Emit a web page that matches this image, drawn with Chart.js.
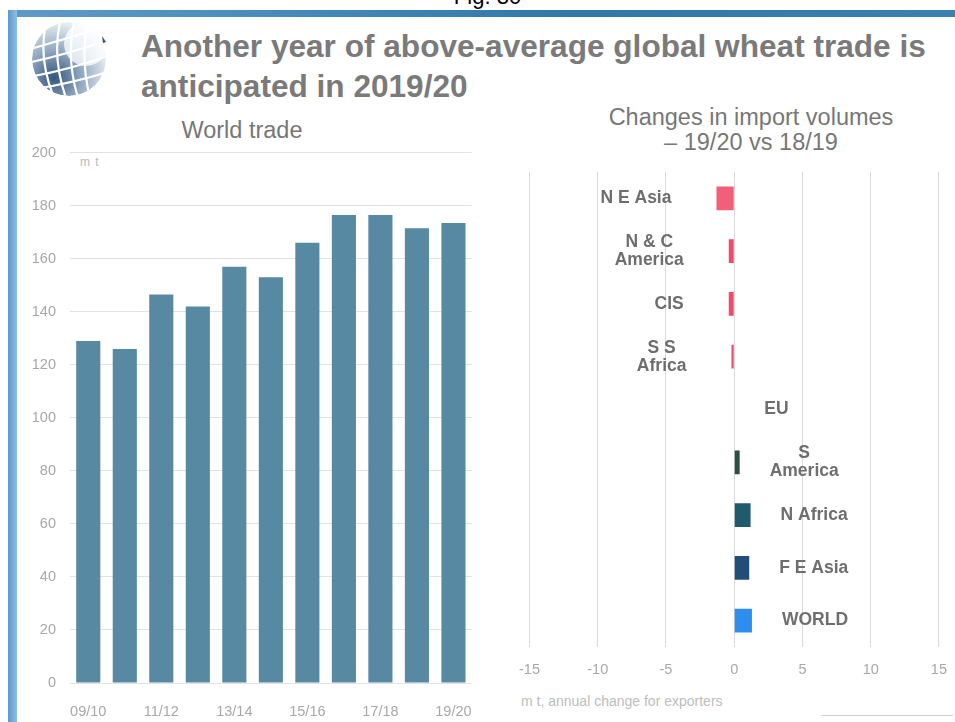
<!DOCTYPE html>
<html>
<head>
<meta charset="utf-8">
<script src="https://cdn.jsdelivr.net/npm/chart.js@4.4.0/dist/chart.umd.min.js"></script>
<style>
    body { margin: 0; width: 955px; height: 722px; overflow: hidden; background: #fff; position: relative;
           font-family: "Liberation Sans", Arial, sans-serif; }
    .abs { position: absolute; }
    #fig { left: 0; width: 975px; top: -16px; text-align: center; font-size: 22px; color: #000; }
    #frame-top { left: 8px; top: 10px; width: 947px; height: 7px; background: linear-gradient(to right, #5d9bc9, #2f78a8 60%, #3a80b0); }
    #frame-left { left: 8px; top: 10px; width: 9px; height: 712px; background: linear-gradient(to right, #5b98c8, #8fbfe3); }
    #title { left: 141px; top: 26px; font-size: 31.6px; line-height: 40px; font-weight: bold; color: #7a7a7a; white-space: nowrap; }
    .sub { font-size: 23.5px; color: #777; text-align: center; white-space: nowrap; }
    #world-title { left: 142px; width: 200px; top: 118px; line-height: 24px; }
    #change-title { left: 600px; width: 302px; top: 105px; line-height: 25px; }
    #unit { left: 80px; top: 155px; font-size: 12px; letter-spacing: 1px; color: #bbb; }
    #caption { left: 521px; top: 693px; font-size: 14px; color: #bdbdbd; white-space: nowrap; }
    #footer { left: 821px; top: 715px; width: 132px; height: 1px; background: #d0d0d0; }
    #trade-box { left: 20px; top: 130px; width: 464px; height: 588px; }
    #change-box { left: 505px; top: 160px; width: 456px; height: 517px; }
</style>
</head>
<body>
<div class="abs" id="fig">Fig. 30</div>
<div class="abs" id="frame-top"></div>
<div class="abs" id="frame-left"></div>

<!-- globe logo -->
<svg class="abs" style="left:28px; top:18px" width="86" height="80" viewBox="0 0 86 80">
    <defs>
        <radialGradient id="globe" cx="30%" cy="75%" r="80%">
            <stop offset="0" stop-color="#34557e"/>
            <stop offset="0.45" stop-color="#8ea6bf"/>
            <stop offset="1" stop-color="#f2f6fa"/>
        </radialGradient>
        <clipPath id="ball"><circle cx="41" cy="41" r="37"/></clipPath>
    </defs>
    <g clip-path="url(#ball)">
        <circle cx="41" cy="41" r="37" fill="url(#globe)"/>
        <g fill="none" stroke="#fff" stroke-width="2.2">
            <path d="M6 30 Q40 20 80 8"/>
            <path d="M4 44 Q40 36 80 22"/>
            <path d="M6 58 Q40 52 80 38"/>
            <path d="M12 70 Q40 66 80 54"/>
            <path d="M18 6 Q10 40 26 80"/>
            <path d="M32 4 Q24 40 38 80"/>
            <path d="M46 4 Q38 40 50 80"/>
            <path d="M60 4 Q52 40 62 80"/>
        </g>
        <circle cx="58" cy="26" r="22" fill="#fff" opacity="0.75"/>
    </g>
    <path d="M74 18 l4 6 l-3 1 z" fill="#3a4e66"/>
</svg>

<div class="abs" id="title">Another year of above-average global wheat trade is<br>anticipated in 2019/20</div>
<div class="abs sub" id="world-title">World trade</div>
<div class="abs sub" id="change-title">Changes in import volumes<br>&ndash; 19/20 vs 18/19</div>
<div class="abs" id="unit">m t</div>
<div class="abs" id="caption">m t, annual change for exporters</div>
<div class="abs" id="footer"></div>

<div class="abs" id="trade-box"><canvas id="trade-chart"></canvas></div>
<div class="abs" id="change-box"><canvas id="change-chart"></canvas></div>

<script>
// world wheat trade, million tonnes
const seasons = ['09/10', '10/11', '11/12', '12/13', '13/14', '14/15', '15/16', '16/17', '17/18', '18/19', '19/20'];
const worldTrade = [129, 126, 146.5, 142, 157, 153, 166, 176.5, 176.5, 171.5, 173.5];

// import changes by region, 19/20 vs 18/19
const regions = [['N E Asia'], ['N & C', 'America'], ['CIS'], ['S S', 'Africa'], ['EU'], ['S', 'America'], ['N Africa'], ['F E Asia'], ['WORLD']];
const importChange = [-1.3, -0.4, -0.4, -0.2, 0, 0.4, 1.2, 1.1, 1.3];
const changeTicks = [-15, -10, -5, 0, 5, 10, 15];

const regionColors = ['#f25f79', '#ee4b6d', '#ee4b6d', '#ee4b6d', '#9aa', '#2e4f3f', '#1f5b6b', '#234d79', '#2d8ef0'];

const tickFont = { family: '"Liberation Sans", Arial, sans-serif', size: 14.5 };

new Chart(document.getElementById('trade-chart'), {
    type: 'bar',
    data: {
        labels: seasons,
        datasets: [{
            data: worldTrade,
            backgroundColor: '#5789a3',
            barPercentage: 0.66,
            categoryPercentage: 1,
        }],
    },
    options: {
        responsive: true,
        maintainAspectRatio: false,
        animation: false,
        layout: { padding: { top: 4, right: 9 } },
        plugins: { legend: { display: false }, tooltip: { enabled: false } },
        scales: {
            x: {
                grid: { display: false },
                border: { display: false },
                ticks: {
                    autoSkip: false, maxRotation: 0, padding: 12, color: '#a8a8a8', font: tickFont,
                    callback: (v, i) => i % 2 === 0 ? seasons[i] : '',
                },
                afterFit: s => { s.height = 35; },
            },
            y: {
                min: 0, max: 200,
                grid: { color: '#e2e2e2', drawTicks: false },
                border: { display: false },
                ticks: { stepSize: 20, padding: 14, color: '#a8a8a8', font: tickFont },
                afterFit: s => { s.width = 50; },
            },
        },
    },
});

// region names written beside each bar
const barLabels = {
    id: 'barLabels',
    afterDatasetsDraw(chart) {
        const ctx = chart.ctx;
        const meta = chart.getDatasetMeta(0);
        ctx.save();
        ctx.font = 'bold 17.5px "Liberation Sans", Arial, sans-serif';
        ctx.fillStyle = '#6e6e6e';
        ctx.textAlign = 'center';
        ctx.textBaseline = 'middle';
        meta.data.forEach((bar, i) => {
            const lines = regions[i];
            const w = Math.max(...lines.map(l => ctx.measureText(l).width));
            const cx = importChange[i] < 0 ? bar.x - 45 - w / 2 : bar.x + 30 + w / 2;
            lines.forEach((l, k) => {
                ctx.fillText(l, cx, bar.y + (k - (lines.length - 1) / 2) * 18);
            });
        });
        ctx.restore();
    },
};

new Chart(document.getElementById('change-chart'), {
    type: 'bar',
    data: {
        labels: regions.map(r => r.join(' ')),
        datasets: [{
            data: importChange,
            backgroundColor: regionColors,
            barPercentage: 0.45,
            categoryPercentage: 1,
        }],
    },
    options: {
        indexAxis: 'y',
        responsive: true,
        maintainAspectRatio: false,
        animation: false,
        layout: { padding: { top: 12 } },
        plugins: { legend: { display: false }, tooltip: { enabled: false } },
        scales: {
            x: {
                min: -15, max: 15,
                afterBuildTicks: s => { s.ticks = changeTicks.map(v => ({ value: v })); },
                grid: { color: '#d9d9d9', drawTicks: false },
                border: { display: false },
                ticks: { padding: 14, color: '#a8a8a8', font: tickFont },
                afterFit: s => { s.height = 30; },
            },
            y: { display: false },
        },
    },
    plugins: [barLabels],
});
</script>
</body>
</html>
